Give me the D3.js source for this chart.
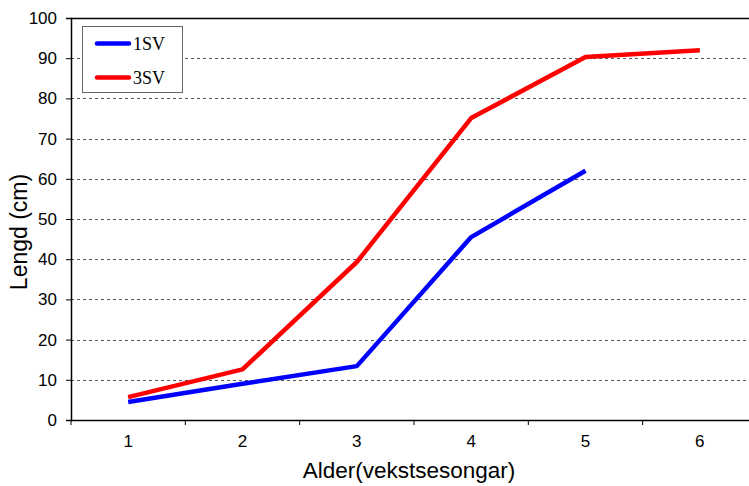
<!DOCTYPE html>
<html><head><meta charset="utf-8">
<script src="https://cdn.jsdelivr.net/npm/d3@7"></script>
<style>body{margin:0;background:#fff}svg{display:block}</style>
</head><body>
<svg id="c" width="749" height="486"></svg>
<script>
const categories = ["1","2","3","4","5","6"];
const series1Name = "1SV";
const series1 = [4.5, 9.0, 13.4, 45.5, 62.0];
const series2Name = "3SV";
const series2 = [5.7, 12.6, 39.3, 75.1, 90.3, 92.0];
const yTicks = [0,10,20,30,40,50,60,70,80,90,100];

const svg = d3.select("#c");
const L = 71, R = 757, T = 18, B = 420;
const x = d3.scaleBand().domain(categories).range([L, R]);
const y = d3.scaleLinear().domain([0,100]).range([B, T]);
const sans = "Arial, 'Liberation Sans', sans-serif";

// gridlines
svg.append("g").selectAll("line").data(yTicks.filter(d=>d>0&&d<100)).join("line")
  .attr("x1", L).attr("x2", R).attr("y1", d=>Math.round(y(d))+0.5).attr("y2", d=>Math.round(y(d))+0.5)
  .attr("stroke", "#555").attr("stroke-width", 1).attr("stroke-dasharray", "3,3");

// top border
svg.append("line").attr("x1", L).attr("x2", R).attr("y1", T+0.5).attr("y2", T+0.5).attr("stroke","#000").attr("stroke-width",1.5);

// y axis
const yAxis = d3.axisLeft(y).tickValues(yTicks).tickSize(5).tickPadding(9);
const gy = svg.append("g").attr("transform", `translate(${L},0)`).call(yAxis);
gy.select(".domain").attr("stroke","#000").attr("stroke-width",1.5);
gy.selectAll("text").attr("font-family",sans).attr("font-size","17px").attr("fill","#000");

// x axis
const xAxis = d3.axisBottom(x).tickSize(0).tickPadding(15);
const gx = svg.append("g").attr("transform", `translate(0,${B})`).call(xAxis);
gx.select(".domain").attr("stroke","#000").attr("stroke-width",1.5);
gx.selectAll("text").attr("font-family",sans).attr("font-size","17px").attr("fill","#000");
gx.append("g").selectAll("line").data(categories).join("line")
  .attr("x1", d=>x(d)).attr("x2", d=>x(d)).attr("y1",0).attr("y2",5).attr("stroke","#000");

// lines
const line = d3.line().x((d,i)=>x(categories[i]) + x.bandwidth()/2).y(d=>y(d));
svg.append("path").datum(series1).attr("d", line).attr("fill","none").attr("stroke","#0000ff").attr("stroke-width",4.5).attr("stroke-linejoin","round");
svg.append("path").datum(series2).attr("d", line).attr("fill","none").attr("stroke","#ff0000").attr("stroke-width",4.5).attr("stroke-linejoin","round");

// axis titles
svg.append("text").attr("x", 409).attr("y", 478).attr("text-anchor","middle")
  .attr("font-family",sans).attr("font-size","22.5px").text("Alder(vekstsesongar)");
svg.append("text").attr("transform","translate(27,232) rotate(-90)").attr("text-anchor","middle")
  .attr("font-family",sans).attr("font-size","23px").text("Lengd (cm)");

// legend
const lg = svg.append("g");
lg.append("rect").attr("x",82.5).attr("y",26.5).attr("width",100).attr("height",66).attr("fill","#fff").attr("stroke","#666").attr("stroke-width",1);
const items = [{n:series1Name,c:"#0000ff",yy:43.5},{n:series2Name,c:"#ff0000",yy:77.5}];
items.forEach(it=>{
  lg.append("line").attr("x1",97).attr("x2",129).attr("y1",it.yy).attr("y2",it.yy).attr("stroke",it.c).attr("stroke-width",4.5).attr("stroke-linecap","round");
  lg.append("text").attr("x",133).attr("y",it.yy+6).attr("font-family","'Liberation Serif', 'Times New Roman', serif").attr("font-size","18px").text(it.n);
});
</script>
</body></html>
